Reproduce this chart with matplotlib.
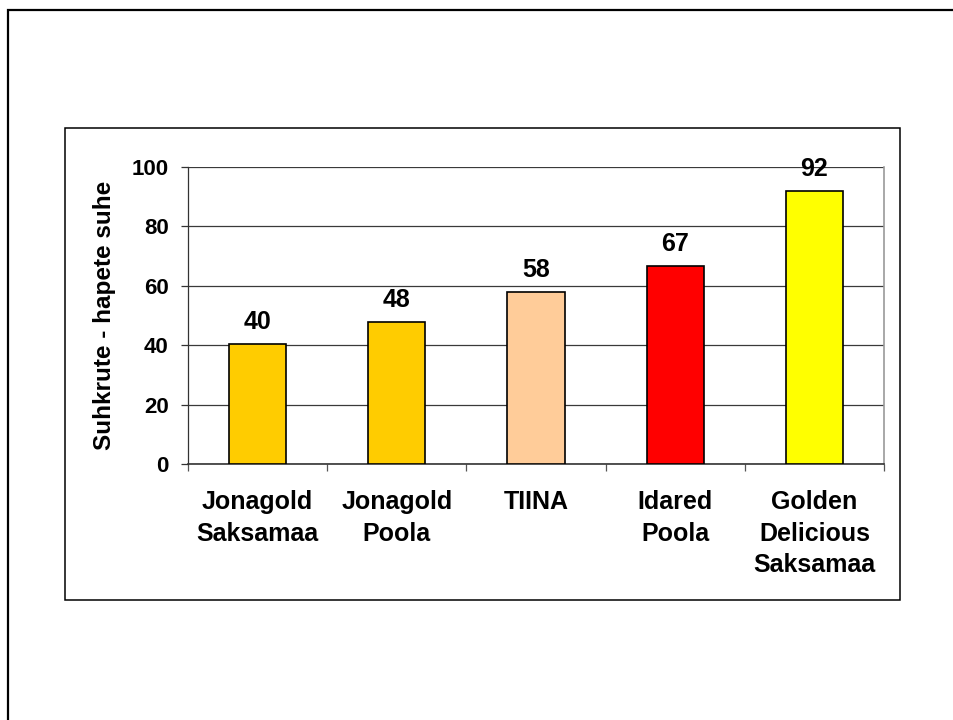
import matplotlib
matplotlib.use("Agg")
import matplotlib.pyplot as plt
from matplotlib.patches import Rectangle
import numpy as np

# Sugar-to-acid ratio of apple samples
categories = ["Jonagold\nSaksamaa", "Jonagold\nPoola", "TIINA", "Idared\nPoola",
              "Golden\nDelicious\nSaksamaa"]
values = [40.4, 47.9, 57.8, 66.7, 91.9]
labels = ["40", "48", "58", "67", "92"]
colors = ["#FFCC00", "#FFCC00", "#FFCC99", "#FF0000", "#FFFF00"]
yticks = [0, 20, 40, 60, 80, 100]
ylabel = "Suhkrute - hapete suhe"

plt.rcParams["font.family"] = ["Liberation Sans", "DejaVu Sans"]
plt.rcParams["font.weight"] = "bold"

W, H = 954, 720
fig = plt.figure(figsize=(W / 100, H / 100), dpi=100)
fig.patch.set_facecolor("white")

def fx(px):
    return px / W

def fy(py):
    return 1 - py / H

# Outer page frame (continues past the right and bottom edges)
fig.add_artist(Rectangle((fx(8), fy(740)), fx(980 - 8), fy(10) - fy(740),
                         transform=fig.transFigure, fill=False,
                         edgecolor="black", linewidth=1.6))
# Chart area frame
fig.add_artist(Rectangle((fx(65), fy(600)), fx(900 - 65), fy(128) - fy(600),
                         transform=fig.transFigure, fill=False,
                         edgecolor="black", linewidth=1.1))

ax = fig.add_axes([fx(188), fy(464), fx(884 - 188), fy(167) - fy(464)])
x = np.arange(len(categories))
ax.bar(x, values, width=0.41, color=colors, edgecolor="black", linewidth=1.2,
       zorder=3)

for xi, v, lab in zip(x, values, labels):
    ax.annotate(lab, (xi, v), xytext=(0, 10.8), textcoords="offset points",
                ha="center", va="baseline", fontsize=18, fontweight="bold")

ax.set_xlim(-0.5, len(categories) - 0.5)
ax.set_ylim(0, 100)
ax.set_yticks(yticks)
ax.set_yticklabels([str(t) for t in yticks], fontsize=16, fontweight="bold")
ax.yaxis.grid(True, color="#3a3a3a", linewidth=0.9, zorder=0)
ax.set_axisbelow(True)

# category labels sit between boundary ticks
ax.set_xticks(x)
ax.set_xticklabels(categories, fontsize=18, fontweight="bold", linespacing=1.38,
                   va="top")
ax.tick_params(axis="x", length=0, pad=19)
ax.set_xticks(np.arange(len(categories) + 1) - 0.5, minor=True)
ax.tick_params(axis="x", which="minor", length=5, width=0.9, color="#555555")
ax.tick_params(axis="y", length=5, width=0.9, color="#333333", pad=9)

ax.spines["top"].set_visible(False)
ax.spines["right"].set_color("#999999")
ax.spines["right"].set_linewidth(1.2)
ax.spines["left"].set_color("#333333")
ax.spines["left"].set_linewidth(0.9)
ax.spines["bottom"].set_color("#333333")
ax.spines["bottom"].set_linewidth(1.2)

ax.set_ylabel(ylabel, fontsize=17.5, fontweight="bold", labelpad=11)

fig.savefig("out.png", dpi=100)
